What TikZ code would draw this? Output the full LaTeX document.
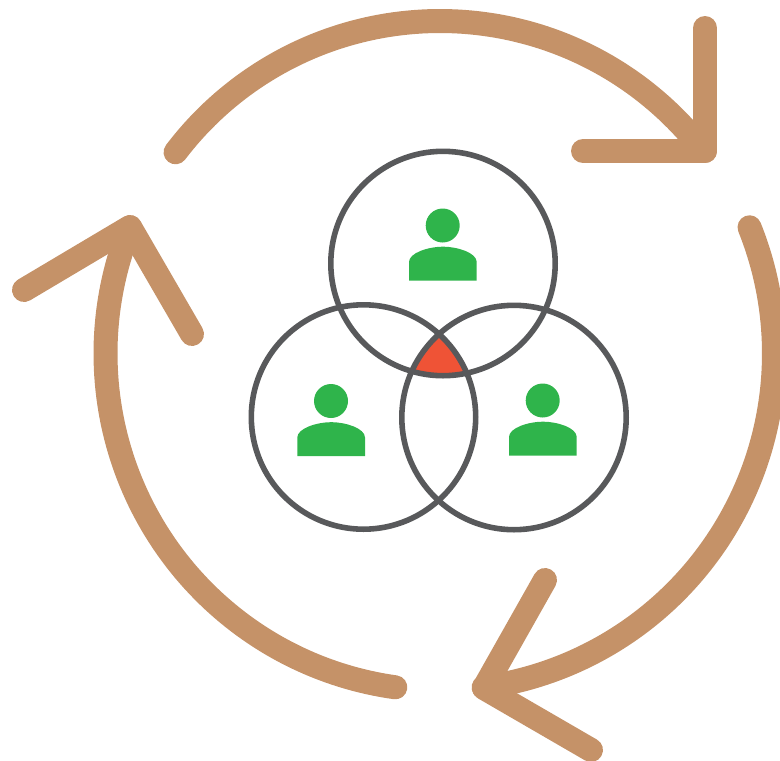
\documentclass[tikz,border=0pt]{standalone}
\definecolor{tan}{HTML}{C59268}
\definecolor{ring}{HTML}{58595B}
\definecolor{lime}{HTML}{2FB44B}
\definecolor{core}{HTML}{EF5336}
\tikzset{
  cycle/.style={draw=tan,line width=24pt,line cap=round,line join=round},
  ringline/.style={draw=ring,line width=5.6pt},
  person/.pic={
    \fill[lime] (442.7,225.5) circle[radius=17pt];
    \fill[lime] (409,280.7) -- (409,262) .. controls (409,253) and (428,246.7) .. (443,246.7)
      .. controls (458,246.7) and (476.7,253) .. (476.7,262) -- (476.7,280.7) -- cycle;
  }
}
\begin{document}
\begin{tikzpicture}[x=1pt,y=-1pt]
\useasboundingbox (0,0) rectangle (780,761);
% central overlap
\begin{scope}
  \clip (443,263.5) circle[radius=112.2pt];
  \clip (363.5,417) circle[radius=112.2pt];
  \fill[core] (514,417.5) circle[radius=112.2pt];
\end{scope}
% rings
\draw[ringline] (443,263.5) circle[radius=112.2pt];
\draw[ringline] (363.5,417) circle[radius=112.2pt];
\draw[ringline] (514,417.5) circle[radius=112.2pt];
% people
\pic at (0,0) {person};
\pic at (-111.7,175.5) {person};
\pic at (100,175) {person};
% cycle arrows
\draw[cycle] plot[domain=-142.8:-37.5,samples=90] ({440+332*cos(\x)},{353+332*sin(\x)}) -- (705,151);
\draw[cycle] (705,28) -- (705,151) -- (583,151);
\draw[cycle] plot[domain=202:97.9,samples=90] ({441.5+336*cos(\x)},{353.5+337*sin(\x)});
\draw[cycle] (24,290) -- (130,227) -- (192,334);
\draw[cycle] plot[domain=-22:82.2,samples=90] ({438+336*cos(\x)},{353.5+337*sin(\x)});
\draw[cycle] (545,580) -- (484,688) -- (591,750);
\end{tikzpicture}
\end{document}
